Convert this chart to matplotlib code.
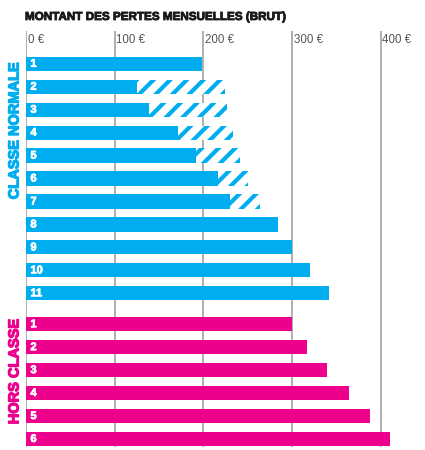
import numpy as np
import matplotlib
matplotlib.use("Agg")
import matplotlib.pyplot as plt
import matplotlib.patheffects as pe

plt.rcParams["font.family"] = ["Liberation Sans", "DejaVu Sans"]
plt.rcParams["hatch.linewidth"] = 3.0

BLUE = "#00aeef"
PINK = "#ec008c"

title = "MONTANT DES PERTES MENSUELLES (BRUT)"
ticks = [0, 100, 200, 300, 400]
tick_labels = ["0 €", "100 €", "200 €", "300 €", "400 €"]

# classe normale: montant plein + partie hachurée (total)
normale_labels = ["1", "2", "3", "4", "5", "6", "7", "8", "9", "10", "11"]
normale_plein = [198, 125, 139, 171, 192, 217, 230, 284, 300, 320, 342]
normale_total = [198, 224, 227, 234, 241, 250, 264, 284, 300, 320, 342]

# hors classe
hors_labels = ["1", "2", "3", "4", "5", "6"]
hors_values = [300, 317, 340, 364, 388, 410]


def heavy(color, w=0.7):
    return [pe.withStroke(linewidth=w, foreground=color)]


fig = plt.figure(figsize=(4.25, 4.5), dpi=100)
ax = fig.add_axes([26 / 425, 3 / 450, 399 / 425, 416 / 450])

gap = 1.35
y_norm = np.arange(len(normale_labels))
y_hors = y_norm[-1] + gap + np.arange(len(hors_labels))
h = 0.62

for t in ticks:
    ax.axvline(t, color="#9a9a9a", lw=1.1, zorder=0)

ax.barh(y_norm, normale_plein, height=h, color=BLUE, lw=0, zorder=2)
hatch_w = np.array(normale_total) - np.array(normale_plein)
ax.barh(y_norm, hatch_w, left=normale_plein, height=h, facecolor="white",
        edgecolor=BLUE, hatch="//", lw=0, zorder=2)
ax.barh(y_hors, hors_values, height=h, color=PINK, lw=0, zorder=2)

for y, lab in zip(y_norm, normale_labels):
    ax.text(5, y, lab, color="white", fontweight="bold", fontsize=8,
            va="center", ha="left", zorder=3, path_effects=heavy("white", 0.5))
for y, lab in zip(y_hors, hors_labels):
    ax.text(5, y, lab, color="white", fontweight="bold", fontsize=8,
            va="center", ha="left", zorder=3, path_effects=heavy("white", 0.5))

ax.set_xlim(0, 450)
ax.set_ylim(y_hors[-1] + 0.35, -1.43)
ax.axis("off")

for t, lab in zip(ticks, tick_labels):
    ax.text(t + 2, -1.05, lab, color="#555555", fontsize=8.3, va="center", ha="left")

fig.text(25 / 425, 1 - 17 / 450, title, fontsize=8.4, fontweight="bold",
         color="#1a1a1a", va="center", ha="left", path_effects=heavy("#1a1a1a", 0.6))

ax.text(-13, 2.9, "CLASSE NORMALE", rotation=90,
        color=BLUE, fontweight="bold", fontsize=10.5, va="center", ha="center",
        path_effects=heavy(BLUE, 0.9))
ax.text(-13, (y_hors[0] + y_hors[4]) / 2 + 0.05, "HORS CLASSE", rotation=90,
        color=PINK, fontweight="bold", fontsize=10.5, va="center", ha="center",
        path_effects=heavy(PINK, 0.9))

fig.savefig("out.png", dpi=100)
